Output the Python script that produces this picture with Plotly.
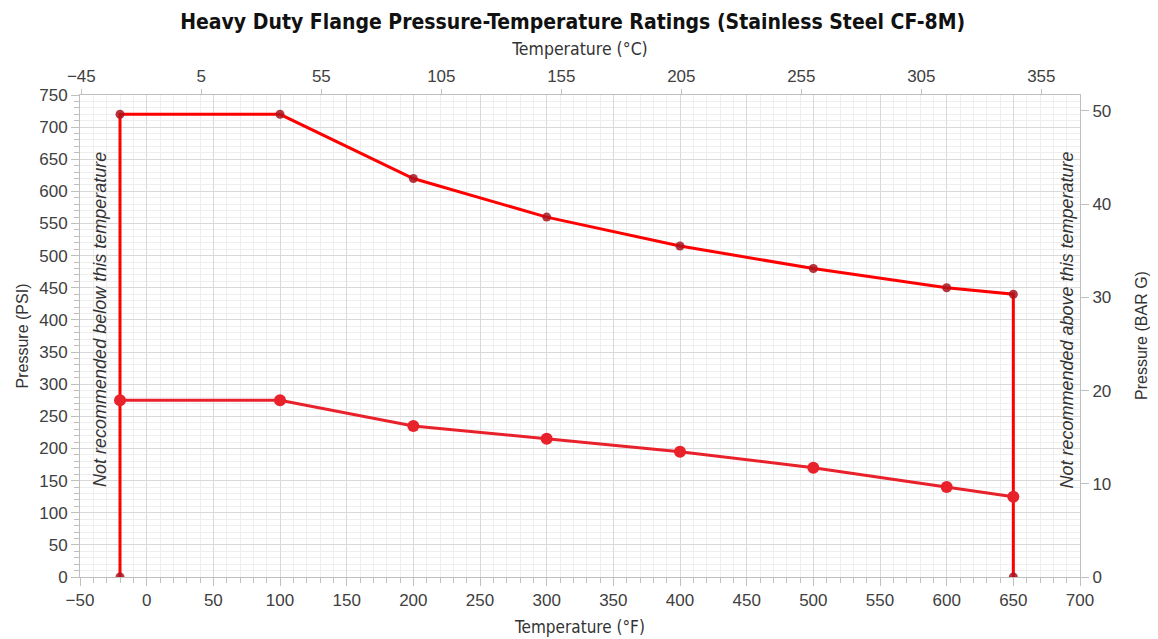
import plotly.graph_objects as go

# Data (°F, psi)
temps_f = [-20, 100, 200, 300, 400, 500, 600, 650]
class300_psi = [720, 720, 620, 560, 515, 480, 450, 440]
class150_psi = [275, 275, 235, 215, 195, 170, 140, 125]
min_temp_f = -20
max_temp_f = 650

title_text = "Heavy Duty Flange Pressure-Temperature Ratings (Stainless Steel CF-8M)"
x_range_f = [-50, 700]
y_range_psi = [0, 750]
PSI_PER_BAR = 14.5038

def f_to_c(f):
    return (f - 32) * 5.0 / 9.0

upper_x = [min_temp_f] + temps_f + [max_temp_f]
upper_y = [0] + class300_psi + [0]

fig = go.Figure()

fig.add_trace(go.Scatter(
    x=upper_x, y=upper_y, mode="lines+markers",
    line=dict(color="#ff0000", width=3),
    marker=dict(color="rgba(170,20,30,0.85)", size=9),
    showlegend=False, hoverinfo="x+y",
))
fig.add_trace(go.Scatter(
    x=temps_f, y=class150_psi, mode="lines+markers",
    line=dict(color="#e8212b", width=3),
    marker=dict(color="#e8212b", size=12),
    showlegend=False, hoverinfo="x+y",
))

narrow = "DejaVu Sans Condensed, Roboto Condensed, Liberation Sans Narrow, Roboto, sans-serif"
tick_font = dict(family="Liberation Sans, Arial, sans-serif", size=17, color="#404040")
grid_major = "#d9d9d9"
grid_minor = "#eeeeee"
axis_line = "#bfbfbf"

fig.update_layout(
    width=1150, height=631,
    paper_bgcolor="white", plot_bgcolor="white",
    margin=dict(l=72, r=78, t=87, b=62, autoexpand=False),
    title=dict(text=title_text, x=0.491, xanchor="center", y=0.979, yanchor="middle",
               font=dict(family=narrow, size=21, color="#111111", weight="bold")),
    xaxis=dict(
        range=x_range_f, tick0=-50, dtick=50, showgrid=True, gridcolor=grid_major, gridwidth=1,
        zeroline=False, showline=True, linecolor=axis_line, linewidth=1, automargin=False,
        ticks="outside", ticklen=8, tickcolor=axis_line, tickfont=tick_font,
        minor=dict(dtick=10, showgrid=True, gridcolor=grid_minor, ticks="outside", ticklen=5, tickcolor=axis_line),
        title=dict(text="Temperature (°F)", standoff=11,
                   font=dict(family=narrow, size=17, color="#333333")),
    ),
    xaxis2=dict(
        range=[f_to_c(x_range_f[0]), f_to_c(x_range_f[1])], tick0=-45, dtick=50,
        overlaying="x", side="top", anchor="y", showgrid=False, zeroline=False,
        showline=True, linecolor=axis_line, linewidth=1, automargin=False,
        ticks="outside", ticklen=5, tickcolor=axis_line, tickfont=tick_font,
        title=dict(text="Temperature (°C)", standoff=7,
                   font=dict(family=narrow, size=17.5, color="#333333")),
    ),
    yaxis=dict(
        range=y_range_psi, tick0=0, dtick=50, showgrid=True, gridcolor=grid_major, gridwidth=1,
        zeroline=False, showline=True, linecolor=axis_line, linewidth=1, automargin=False,
        ticks="outside", ticklen=8, tickcolor=axis_line, tickfont=tick_font,
        minor=dict(dtick=10, showgrid=True, gridcolor=grid_minor, ticks="outside", ticklen=5, tickcolor=axis_line),
        title=dict(text="Pressure (PSI)", standoff=6,
                   font=dict(family="Liberation Sans, Arial, sans-serif", size=16, color="#333333")),
    ),
    yaxis2=dict(
        range=[y_range_psi[0] / PSI_PER_BAR, y_range_psi[1] / PSI_PER_BAR], tick0=0, dtick=10,
        overlaying="y", side="right", anchor="x", showgrid=False, zeroline=False,
        showline=True, linecolor=axis_line, linewidth=1, automargin=False,
        ticks="outside", ticklen=8, tickcolor=axis_line, tickfont=tick_font,
    ),
)

fig.add_trace(go.Scatter(x=[f_to_c(min_temp_f)], y=[0], xaxis="x2", yaxis="y",
                         mode="markers", marker=dict(opacity=0), showlegend=False, hoverinfo="skip"))
fig.add_trace(go.Scatter(x=[min_temp_f], y=[0], xaxis="x", yaxis="y2",
                         mode="markers", marker=dict(opacity=0), showlegend=False, hoverinfo="skip"))

# Right axis title (as annotation to keep it inside the page)
fig.add_annotation(x=1.061, y=0.5, xref="paper", yref="paper", text="Pressure (BAR G)",
                   textangle=-90, showarrow=False, xanchor="center", yanchor="middle",
                   font=dict(family="Liberation Sans, Arial, sans-serif", size=16, color="#333333"))

ann_font = dict(family="Liberation Sans, Arial, sans-serif", size=18, color="#333333", style="italic")
fig.add_annotation(x=-35, y=400, xref="x", yref="y", text="Not recommended below this temperature",
                   textangle=-90, showarrow=False, font=ann_font)
fig.add_annotation(x=690, y=400, xref="x", yref="y", text="Not recommended above this temperature",
                   textangle=-90, showarrow=False, font=ann_font)

fig.write_html("out.html")
